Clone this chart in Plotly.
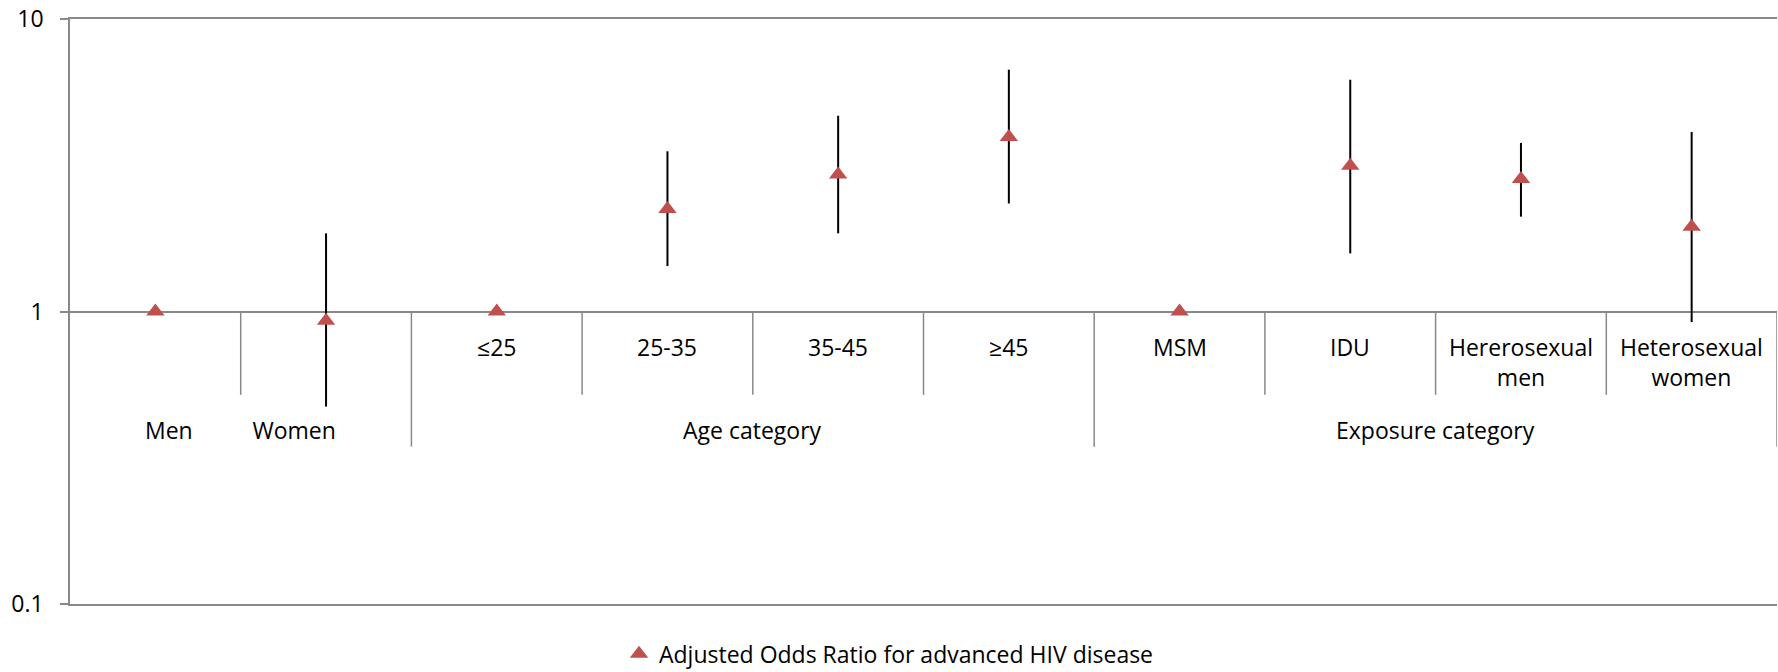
import plotly.graph_objects as go

# Adjusted odds ratios with 95% CI
categories = ["Men", "Women", "≤25", "25-35", "35-45", "≥45",
              "MSM", "IDU", "Hererosexual men", "Heterosexual women"]
odds_ratio = [1.0, 0.93, 1.0, 2.24, 2.94, 3.95, 1.0, 3.15, 2.84, 1.95]
ci_upper = [1.0, 1.85, 1.0, 3.53, 4.67, 6.71, 1.0, 6.20, 3.77, 4.11]
ci_lower = [1.0, 0.473, 1.0, 1.43, 1.85, 2.34, 1.0, 1.58, 2.11, 0.92]

# first row of axis labels (blank for the gender pair, which sits in the group row)
row_labels = ["", "", "≤25", "25-35", "35-45", "≥45",
              "MSM", "IDU", "Hererosexual<br>men", "Heterosexual<br>women"]
group_labels = ["Men" + "\u00a0" * 10 + "Women", "Age category", "Exposure category"]
group_first = [0, 2, 6]
group_last = [1, 5, 9]

y_ticks = [0.1, 1, 10]
y_tick_text = ["0.1", "1", "10"]

FONT = "Open Sans, Liberation Sans, sans-serif"
GREY = "#898989"
RED = "#C0504D"

xpos = list(range(len(categories)))

fig = go.Figure()
fig.add_trace(go.Scatter(
    x=xpos,
    y=odds_ratio,
    mode="markers",
    name="Adjusted Odds Ratio for advanced HIV disease",
    marker=dict(symbol="triangle-up", size=16, color=RED),
    error_y=dict(type="data", symmetric=False,
                 array=[u - v for u, v in zip(ci_upper, odds_ratio)],
                 arrayminus=[v - l for v, l in zip(odds_ratio, ci_lower)],
                 color="black", thickness=2, width=0),
    hovertext=categories,
))

# separators under the category axis (which crosses at 1 = middle of the plot)
shapes = []
short_len = 0.1425
long_len = 0.231
for i in range(1, len(categories) + 1):
    edge = i - 0.5
    is_group_edge = (i in group_first) or i == len(categories)
    shapes.append(dict(type="line", xref="x", yref="paper",
                       x0=edge, x1=edge, y0=0.5,
                       y1=0.5 - (long_len if is_group_edge else short_len),
                       line=dict(color=GREY, width=1.5)))

annotations = []
for x, lab in zip(xpos, row_labels):
    if not lab:
        continue
    n_lines = lab.count("<br>") + 1
    annotations.append(dict(x=x, y=0, xref="x", yref="y", text=lab,
                            showarrow=False, xanchor="center", yanchor="middle",
                            yshift=-35 - 15.5 * (n_lines - 1),
                            font=dict(family=FONT, size=23, color="black")))
for lab, a, b in zip(group_labels, group_first, group_last):
    annotations.append(dict(x=(a + b) / 2, y=0, xref="x", yref="y", text=lab,
                            showarrow=False, xanchor="center", yanchor="middle",
                            yshift=-118,
                            font=dict(family=FONT, size=23, color="black")))

fig.update_layout(
    width=1778, height=672,
    margin=dict(l=70, r=1, t=19, b=68),
    paper_bgcolor="white", plot_bgcolor="white",
    font=dict(family=FONT, size=23, color="black"),
    showlegend=True,
    legend=dict(orientation="h", xref="container", yref="container",
                x=0.5, xanchor="center", y=0.027, yanchor="middle",
                font=dict(family=FONT, size=23, color="black")),
    shapes=shapes,
    annotations=annotations,
)
# x axis kept only for the frame lines at 0.1 (bottom) and 10 (top)
fig.update_xaxes(range=[-0.5, 9.5], showticklabels=False, ticks="",
                 showgrid=False, zeroline=False,
                 showline=True, mirror=True, linecolor=GREY, linewidth=1.5)
fig.update_yaxes(type="log", range=[-1, 1],
                 tickvals=y_ticks, ticktext=y_tick_text,
                 showgrid=True, gridcolor=GREY, gridwidth=1.5,
                 showline=True, linecolor=GREY, linewidth=1.5,
                 ticks="outside", ticklen=8, tickcolor=GREY, tickwidth=1.5,
                 ticklabelstandoff=12,
                 tickfont=dict(family=FONT, size=23, color="black"))

fig.write_html("out.html", config={"displayModeBar": False},
               post_script="document.body.style.margin='0px';")
